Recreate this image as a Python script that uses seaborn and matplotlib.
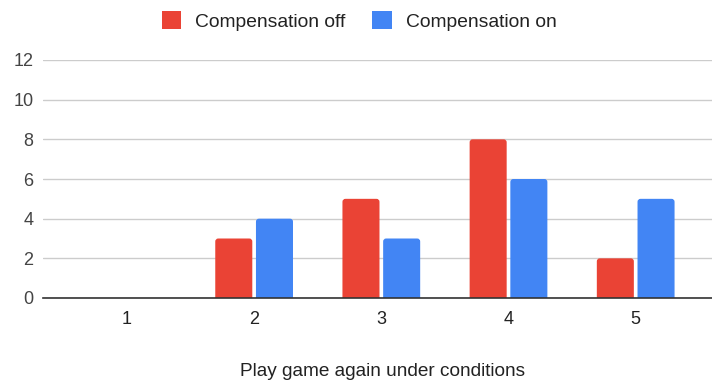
import matplotlib
matplotlib.use("Agg")
import matplotlib.pyplot as plt
import seaborn as sns
import pandas as pd
from matplotlib.patches import Patch, FancyBboxPatch

categories = ["1", "2", "3", "4", "5"]
comp_off = [0, 3, 5, 8, 2]
comp_on = [0, 4, 3, 6, 5]
series_names = ["Compensation off", "Compensation on"]
y_ticks = [0, 2, 4, 6, 8, 10, 12]
colors = ["#EA4335", "#4285F4"]

df = pd.DataFrame({
    "cat": categories * 2,
    "val": comp_off + comp_on,
    "series": [series_names[0]] * len(categories) + [series_names[1]] * len(categories),
})

sns.set_theme(style="white")
plt.rcParams["font.family"] = ["Liberation Sans", "DejaVu Sans"]

fig = plt.figure(figsize=(7.12, 3.87), dpi=100)
ax = fig.add_axes([43 / 712, 89 / 387, 669 / 712, 238 / 387])

sns.barplot(data=df, x="cat", y="val", hue="series", order=categories,
            hue_order=series_names, palette=colors, width=0.64, gap=0.09,
            saturation=1, ax=ax, legend=False)

ax.set_ylim(0, 12)
ax.set_xlim(-0.66, 4.6)

# give bars slightly rounded top corners (bottom hidden below baseline)
px_x = 669 / (4.6 + 0.66)
px_y = 238 / 12
r_px = 3
for p in list(ax.patches):
    x, y = p.get_x(), p.get_y()
    w, h = p.get_width(), p.get_height()
    if h <= 0:
        p.set_visible(False)
        continue
    ext = 0.5
    fb = FancyBboxPatch((x, y - ext), w, h + ext,
                        boxstyle=f"round,pad=0,rounding_size={r_px / px_x}",
                        mutation_aspect=px_x / px_y,
                        facecolor=p.get_facecolor(), edgecolor="none",
                        zorder=p.get_zorder())
    p.set_visible(False)
    ax.add_patch(fb)

ax.set_yticks(y_ticks)
ax.set_yticklabels([str(t) for t in y_ticks], color="#444444", fontsize=13)
ax.tick_params(axis="y", length=0, pad=7)
ax.tick_params(axis="x", length=0, pad=9, labelsize=13, labelcolor="#222222")
ax.grid(axis="y", color="#cccccc", linewidth=1)
ax.set_axisbelow(True)
for s in ["top", "right", "left"]:
    ax.spines[s].set_visible(False)
ax.spines["bottom"].set_color("#333333")
ax.spines["bottom"].set_linewidth(1.2)
ax.spines["bottom"].set_zorder(5)
ax.set_ylabel("")
ax.set_xlabel("Play game again under conditions", fontsize=13.7, color="#222222", va="center")
ax.xaxis.set_label_coords((382 - 43) / 669, -73 / 238)

handles = [Patch(facecolor=c, edgecolor="none") for c in colors]
fig.legend(handles, series_names, loc="center", bbox_to_anchor=(359 / 712, 1 - 21 / 387),
           ncol=2, frameon=False, fontsize=13.9, handlelength=1.0, handleheight=1.0,
           handletextpad=0.72, columnspacing=1.4, labelcolor="#222222")

fig.savefig("out.png", dpi=100)
